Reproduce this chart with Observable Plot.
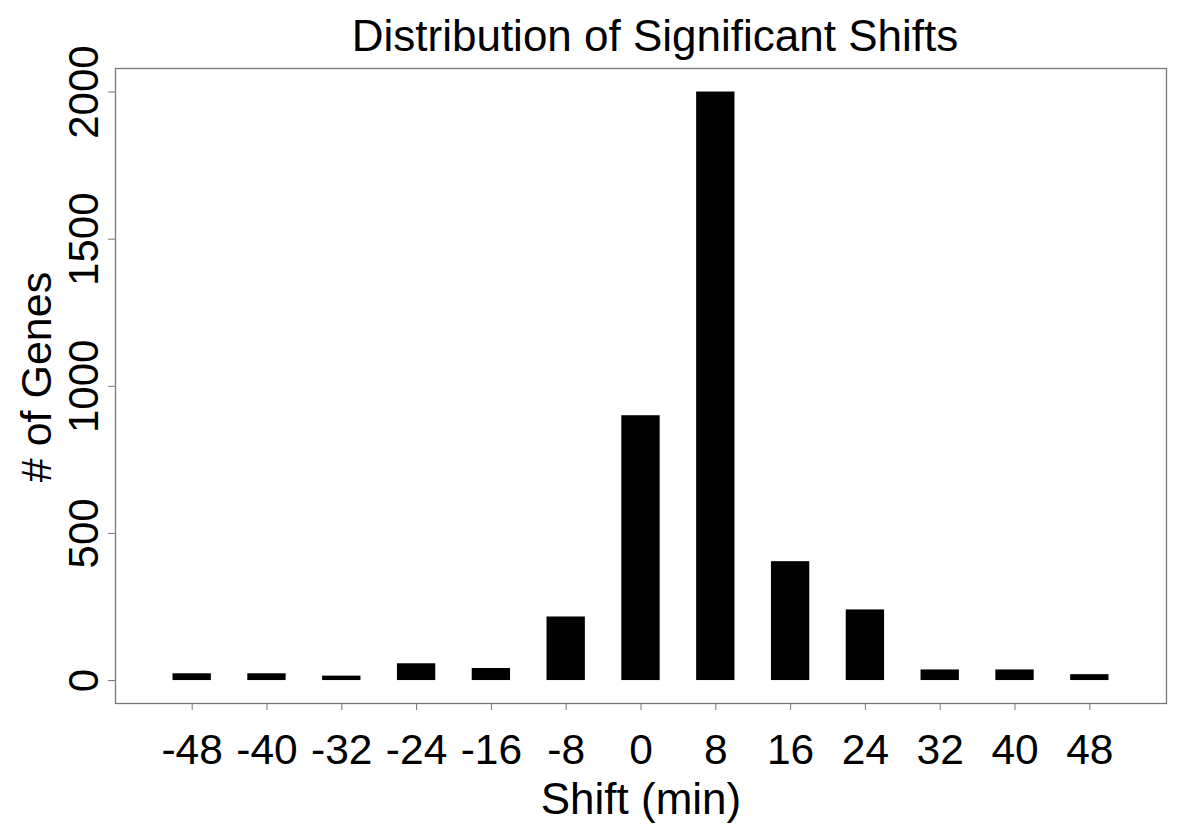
<!DOCTYPE html>
<html>
<head>
<meta charset="utf-8">
<script src="https://cdn.jsdelivr.net/npm/d3@7"></script>
<script src="https://cdn.jsdelivr.net/npm/@observablehq/plot@0.6"></script>
<style>
  html, body { margin: 0; padding: 0; background: #fff; }
  #chart svg { display: block; }
</style>
</head>
<body>
<div id="chart"></div>
<script>
const shifts = [-48, -40, -32, -24, -16, -8, 0, 8, 16, 24, 32, 40, 48];
const counts = [23, 23, 15, 57, 41, 216, 900, 2000, 404, 240, 36, 36, 20];
const xTicks = shifts;
const yTicks = [0, 500, 1000, 1500, 2000];
const title = "Distribution of Significant Shifts";
const xLabel = "Shift (min)";
const yLabel = "# of Genes";

const data = shifts.map((s, i) => ({shift: s, count: counts[i]}));
const halfWidth = 2.05;
const font = "'Liberation Sans', Arial, Helvetica, sans-serif";
const grey = "#777";

const chart = Plot.plot({
  width: 1200,
  height: 829,
  marginLeft: 115,
  marginRight: 34,
  marginTop: 68,
  marginBottom: 126,
  style: {fontFamily: font, background: "#fff", color: "#000"},
  x: {domain: [-56.2, 56.2]},
  y: {domain: [-78, 2080]},
  marks: [
    Plot.rectY(data, {x1: d => d.shift - halfWidth, x2: d => d.shift + halfWidth, y1: 0, y2: "count", fill: "#000"}),
    Plot.frame({stroke: grey, strokeWidth: 1.3}),
    Plot.axisX({ticks: xTicks, tickSize: 7, tickPadding: 23, fontSize: 42.5, stroke: grey, fill: "#000", label: null, tickFormat: d => String(d)}),
    Plot.axisY({ticks: yTicks, tickSize: 7, stroke: grey, label: null, tickFormat: () => ""}),
    Plot.text(yTicks, {y: d => d, text: d => String(d), frameAnchor: "left", dx: -31, rotate: -90, textAnchor: "middle", lineAnchor: "middle", fontSize: 42, fill: "#000"}),
    Plot.text([title], {frameAnchor: "top", dx: 14, dy: -18, lineAnchor: "bottom", fontSize: 44, fill: "#000"}),
    Plot.text([xLabel], {frameAnchor: "bottom", dy: 110, lineAnchor: "bottom", fontSize: 44, fill: "#000"}),
    Plot.text([yLabel], {frameAnchor: "left", dx: -65, dy: -9, rotate: -90, lineAnchor: "bottom", textAnchor: "middle", fontSize: 43, fill: "#000"})
  ]
});
document.getElementById("chart").append(chart);
</script>
</body>
</html>
